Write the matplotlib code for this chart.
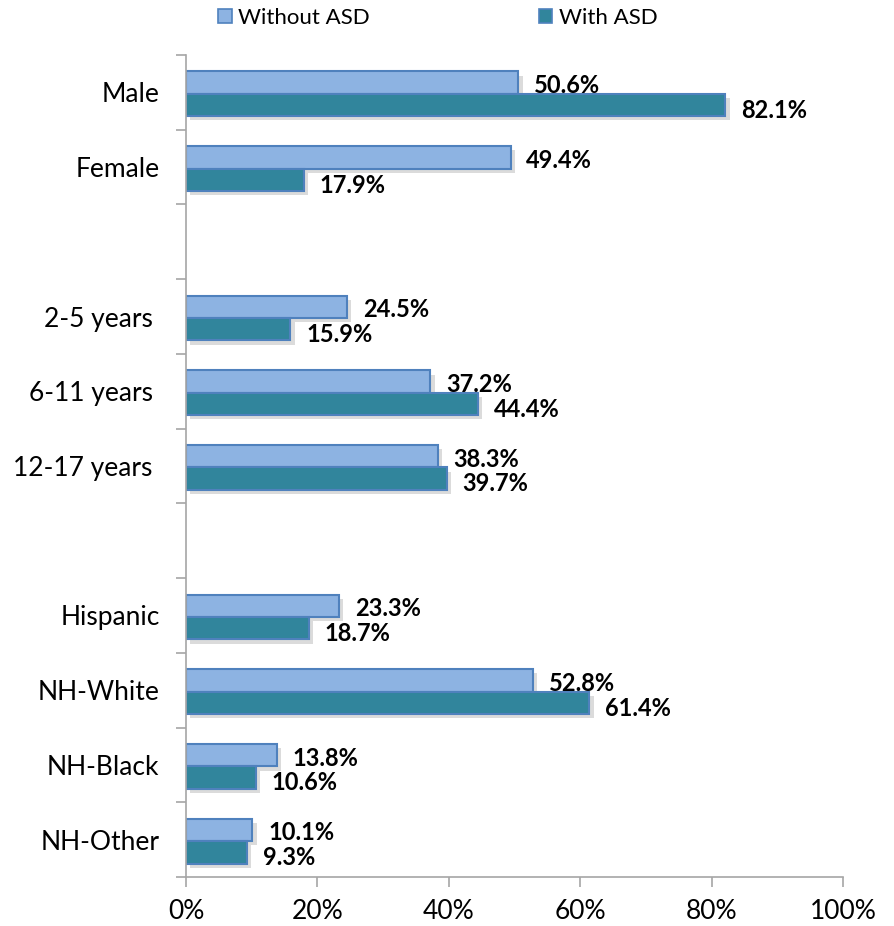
import matplotlib
matplotlib.use('Agg')
import matplotlib.pyplot as plt
import matplotlib.patheffects as pe
from matplotlib.patches import Patch
from matplotlib.ticker import FixedLocator, PercentFormatter
import numpy as np

plt.rcParams['font.family'] = ['Lato', 'DejaVu Sans']

# categories (blank entries are the gaps between groups)
categories = ['Male', 'Female', '', '2-5 years ', '6-11 years ', '12-17 years ', '',
              'Hispanic', 'NH-White', 'NH-Black', 'NH-Other']
without_asd = [50.6, 49.4, np.nan, 24.5, 37.2, 38.3, np.nan, 23.3, 52.8, 13.8, 10.1]
with_asd = [82.1, 17.9, np.nan, 15.9, 44.4, 39.7, np.nan, 18.7, 61.4, 10.6, 9.3]
x_ticks = [0, 20, 40, 60, 80, 100]

col_without = '#8db3e2'
col_with = '#31859c'
col_edge = '#4f81bd'
col_axis = '#a6a6a6'

fig = plt.figure(figsize=(8.95, 9.26), dpi=100)
ax = fig.add_axes([186/895, 49/926, (843-186)/895, (877-55)/926])

y = np.arange(len(categories))
h = 0.3
shadow = [pe.SimplePatchShadow(offset=(3, -3), shadow_rgbFace='#808080', alpha=0.28), pe.Normal()]

b1 = ax.barh(y - h/2 + 0.02, without_asd, height=h, color=col_without, edgecolor=col_edge, linewidth=1.5)
b2 = ax.barh(y + h/2 + 0.02, with_asd, height=h, color=col_with, edgecolor=col_edge, linewidth=1.5)
for bars in (b1, b2):
    for b in bars:
        b.set_path_effects(shadow)

for i in range(len(categories)):
    if not np.isnan(without_asd[i]):
        ax.text(without_asd[i] + 2.4, y[i] - h/2 + 0.06, f'{without_asd[i]:.1f}%',
                va='center', ha='left', fontsize=17, fontweight='bold')
        ax.text(with_asd[i] + 2.4, y[i] + h/2 + 0.09, f'{with_asd[i]:.1f}%',
                va='center', ha='left', fontsize=17, fontweight='bold')

ax.set_xlim(0, 100)
ax.set_ylim(len(categories) - 0.5, -0.5)
ax.set_xticks(x_ticks)
ax.xaxis.set_major_formatter(PercentFormatter(100, decimals=0))
ax.set_yticks(y)
ax.set_yticklabels(categories)
ax.yaxis.set_minor_locator(FixedLocator(np.arange(-0.5, len(categories), 1.0)))

ax.tick_params(axis='y', which='major', length=0, pad=19, labelsize=19)
ax.tick_params(axis='y', which='minor', length=7, width=1.2, color=col_axis, direction='out')
ax.tick_params(axis='x', which='major', length=7, width=1.2, color=col_axis, direction='out',
               pad=9, labelsize=19)

for s in ('top', 'right'):
    ax.spines[s].set_visible(False)
for s in ('left', 'bottom'):
    ax.spines[s].set_color(col_axis)
    ax.spines[s].set_linewidth(1.2)

handles = [Patch(facecolor=col_without, edgecolor=col_edge, linewidth=1.2),
           Patch(facecolor=col_with, edgecolor=col_edge, linewidth=1.2)]
fig.legend(handles, ['Without ASD', 'With ASD'], loc='center', bbox_to_anchor=(438/895, 1 - 18/926),
           ncol=2, frameon=False, fontsize=16, handlelength=0.6, handleheight=0.6,
           handletextpad=0.3, columnspacing=7.6)

fig.savefig('out.png', dpi=100)
